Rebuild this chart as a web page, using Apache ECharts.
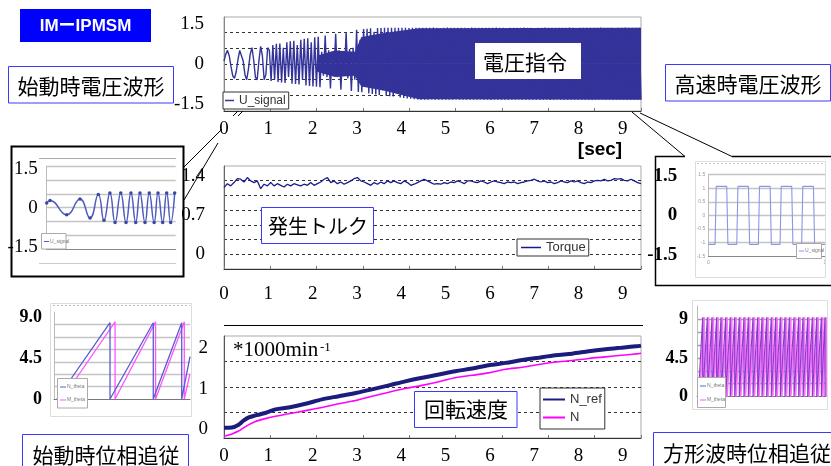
<!DOCTYPE html>
<html><head><meta charset="utf-8">
<script src="https://cdn.jsdelivr.net/npm/echarts@6/dist/echarts.min.js"></script>
<style>html,body{margin:0;padding:0;background:#fff}#c{width:831px;height:466px}</style>
</head><body><div id="c"></div><script>
// ---------------- data ----------------
const timeTickLabels = ['0','1','2','3','4','5','6','7','8','9'];
const voltTickLabels = ['1.5','0','-1.5'];
const torqueTickLabels = ['1.4','0.7','0'];
const speedTickLabels = ['2','1','0'];
const startWaveTickLabels = ['1.5','0','-1.5'];
const squareWaveTickLabels = ['1.5','0','-1.5'];
const startPhaseTickLabels = ['9.0','4.5','0'];
const squarePhaseTickLabels = ['9','4.5','0'];

// voltage command U_signal, evenly sampled over 0 .. 9.41 s
const uSignal = [
0.1,0.35,0.5,0.3,-0.1,-0.45,-0.55,-0.3,0.15,0.5,
0.55,0.1,-0.4,-0.6,-0.2,0.35,0.6,0.15,-0.5,-0.6,
0.1,0.65,0.3,-0.6,-0.4,0.6,0.5,-0.65,0.7,-0.6,
0.75,-0.68,0.76,-0.7,0.6,-0.72,0.8,-0.5,0.84,-0.75,
0.86,-0.76,0.7,-0.78,0.9,-0.6,0.93,-0.81,0.95,-0.83,
0.8,-0.85,0.99,-0.86,1.01,-0.88,0.45,-0.45,1.06,-0.5,
0.5,-0.93,0.45,-0.45,1.12,-0.5,0.5,-0.97,0.48,-0.45,
1.19,-0.55,0.55,-1.02,0.6,-0.6,1.27,-1.06,0.9,-1.07,
1.3,-0.85,1.31,-1.11,1.33,-1.13,1.2,-1.15,1.34,-1.17,
1.34,-1.0,1.35,-1.2,1.35,-1.22,1.35,-1.23,1.35,-1.1,
1.35,-1.26,1.35,-1.28,1.35,-1.3,1.34,-1.31,1.35,-1.33,
1.35,-1.34,1.35,-1.35,1.35,-1.35,
1.35,-1.35,1.35,-1.34,1.36,-1.35,1.35,-1.35,1.34,-1.35,
1.35,-1.35,1.36,-1.35,1.35,-1.35,1.35,-1.34,1.35,-1.35,
1.35,-1.35,1.35,-1.35,1.34,-1.35,1.36,-1.35,1.35,-1.35,
1.35,-1.34,1.35,-1.35,1.35,-1.35,1.35,-1.36,1.35,-1.35,
1.36,-1.35,1.35,-1.35,1.35,-1.35,1.34,-1.35,1.35,-1.35,
1.35,-1.35,1.35,-1.34,1.35,-1.35,1.36,-1.35,1.35,-1.35,
1.35,-1.35,1.34,-1.35,1.35,-1.35,1.35,-1.35,1.36,-1.35,
1.35,-1.36,1.35,-1.35,1.35,-1.34,1.35,-1.35,1.35,-1.35,
1.35,-1.35,1.36,-1.35,1.35,-1.35,1.34,-1.35,1.35,-1.35,
1.35,-1.35,1.35,-1.35,1.35,-1.36,1.35,-1.35,1.35,-1.34,
1.36,-1.35,1.35,-1.35,1.35,-1.35,1.35,-1.35,1.34,-1.35,
1.35,-1.35,1.35,-1.35,1.36,-1.35,1.35,-1.35,1.35,-1.35,
1.35,-1.35,1.35,-1.35
];
// densely filled envelope of U_signal (where the trace merges into a solid band)
const uEnvTime  = [2.1, 2.5, 2.95, 3.1, 3.6, 4.4, 9.41];
const uEnvUpper = [0.3, 0.5, 0.45, 1.0, 1.15, 1.33, 1.35];
const uEnvLower = [-0.3, -0.5, -0.45, -0.85, -1.0, -1.33, -1.35];

// generated torque, evenly sampled over 0 .. 9.41 s
const torque = [
1.19,1.26,1.22,1.28,1.35,1.34,1.29,1.37,1.31,1.28,
1.31,1.17,1.25,1.22,1.28,1.22,1.26,1.23,1.2,1.25,
1.22,1.26,1.24,1.22,1.25,1.23,1.28,1.23,1.26,1.29,
1.34,1.37,1.28,1.31,1.26,1.29,1.25,1.28,1.31,1.35,
1.37,1.31,1.29,1.26,1.23,1.28,1.25,1.29,1.26,1.31,
1.28,1.31,1.28,1.26,1.31,1.28,1.23,1.25,1.28,1.31,
1.34,1.31,1.28,1.25,1.26,1.25,1.28,1.26,1.29,1.28,
1.31,1.29,1.26,1.31,1.31,1.29,1.28,1.31,1.29,1.26,
1.29,1.31,1.29,1.28,1.26,1.29,1.28,1.29,1.26,1.28,
1.29,1.31,1.32,1.34,1.31,1.29,1.31,1.28,1.29,1.26,
1.28,1.31,1.29,1.28,1.31,1.29,1.31,1.28,1.26,1.29,
1.28,1.31,1.32,1.31,1.34,1.31,1.32,1.35,1.34,1.35,
1.32,1.31,1.34,1.31,1.28,1.26
];

// rotation speed (*1000 min^-1)
const speedTime = [0,0.18,0.33,0.44,0.56,0.71,0.93,1.16,1.46,1.84,2.21,2.59,2.97,3.34,3.72,4.09,4.47,4.85,5.22,5.6,5.97,6.35,6.73,7.1,7.48,7.86,8.23,8.61,8.98,9.36,9.41];
const nRef = [0.02,0.03,0.10,0.20,0.28,0.33,0.39,0.48,0.53,0.62,0.73,0.81,0.89,0.98,1.08,1.18,1.27,1.35,1.43,1.50,1.58,1.64,1.71,1.77,1.83,1.87,1.93,1.98,2.02,2.06,2.07];
const nAct = [-0.19,-0.13,-0.06,0.02,0.10,0.18,0.25,0.31,0.37,0.45,0.53,0.62,0.70,0.81,0.91,1.00,1.08,1.17,1.27,1.33,1.39,1.48,1.53,1.60,1.66,1.70,1.75,1.79,1.83,1.87,1.88];

// inset: start-up voltage waveform (extrema)
const startWaveTime = [0,0.026,0.155,0.258,0.336,0.40,0.444,0.49,0.53,0.574,0.615,0.653,0.69,0.723,0.762,0.795,0.833,0.863,0.899,0.93,0.961,0.992];
const startWaveValue = [0.19,0.29,-0.26,0.34,-0.38,0.51,-0.47,0.57,-0.55,0.57,-0.55,0.57,-0.55,0.57,-0.55,0.57,-0.55,0.57,-0.55,0.57,-0.55,0.57];

// inset: high-speed (square) voltage waveform
const squareWaveTime = [0,0.058,0.068,0.158,0.168,0.244,0.254,0.344,0.354,0.429,0.439,0.530,0.540,0.615,0.625,0.715,0.725,0.800,0.810,0.901,0.911,1.0];
const squareWaveValue = [-1.06,-1.06,1.07,1.07,-1.06,-1.06,1.07,1.07,-1.06,-1.06,1.07,1.07,-1.06,-1.06,1.07,1.07,-1.06,-1.06,1.07,1.07,-1.06,-1.06];

// inset: start-up phase tracking
const startThetaRefTime = [0.022,0.412,0.412,0.730,0.730,0.939,0.939,1.0];
const startThetaRef = [0,8.4,0,8.4,0,8.4,0,4.66];
const startThetaTime = [0.059,0.449,0.449,0.747,0.747,0.958,0.958,1.0];
const startTheta = [0,8.5,0,8.5,0,8.5,0,2.8];

// inset: square-wave phase tracking (reset instants and peak)
const squareThetaRefResets = [0.010,0.044,0.080,0.116,0.152,0.186,0.222,0.258,0.292,0.328,0.364,0.398,0.434,0.470,0.504,0.540,0.576,0.610,0.646,0.682,0.716,0.752,0.788,0.822,0.858,0.894,0.928,0.964,0.992];
const squareThetaResets = [0.020,0.054,0.090,0.126,0.162,0.196,0.232,0.268,0.302,0.338,0.374,0.408,0.444,0.480,0.514,0.550,0.586,0.620,0.656,0.692,0.726,0.762,0.798,0.832,0.868,0.904,0.938,0.974,1.0];
const squareThetaPeak = [9.2];

// ---------------- helpers ----------------
const zip = (a, b) => a.map((v, i) => [v, b[i]]);
const sawtooth = (resets, peak) => {
  const pts = [[resets[0], 0]];
  for (let k = 1; k < resets.length; k++) { pts.push([resets[k], peak], [resets[k], 0]); }
  return pts;
};
const SERIF = 'Liberation Serif';
const SANS = 'Liberation Sans';
const JP = 'Noto Sans CJK JP';

function labelAxis(gridIndex, min, max, labels, margin, weight, size) {
  return {
    type: 'value', gridIndex, position: 'left', min, max,
    axisLine: { show: false, onZero: false }, axisTick: { show: false }, splitLine: { show: false },
    axisLabel: {
      customValues: labels.map(Number), margin,
      formatter: v => { const s = labels.find(t => Math.abs(Number(t) - v) < 1e-9); return s === undefined ? '' : s; },
      fontFamily: SERIF, fontSize: size || 19, fontWeight: weight || 'normal', color: '#000'
    }
  };
}
function gridAxis(gridIndex, min, max, interval, lineStyle, axisColor, showMin, showMax) {
  return {
    type: 'value', gridIndex, position: 'left', min, max, interval,
    axisLine: { show: !!axisColor, onZero: false, lineStyle: { color: axisColor || '#000', width: 1 } },
    axisTick: { show: false }, axisLabel: { show: false },
    splitLine: { show: true, showMinLine: showMin, showMaxLine: showMax, lineStyle }
  };
}
function timeAxis(gridIndex, margin) {
  return {
    type: 'value', gridIndex, position: 'bottom', min: 0, max: 9.41,
    axisLine: { show: true, onZero: false, lineStyle: { color: '#333', width: 1 } },
    axisTick: { show: false }, splitLine: { show: false },
    axisLabel: { customValues: timeTickLabels.map(Number), margin, fontFamily: SERIF, fontSize: 19, color: '#000' }
  };
}
function tickAxis(gridIndex) {
  return {
    type: 'value', gridIndex, position: 'bottom', min: 0, max: 9, interval: 1,
    axisLine: { show: false, onZero: false }, axisLabel: { show: false }, splitLine: { show: false },
    axisTick: { show: true, inside: true, length: 3, lineStyle: { color: '#777' } }
  };
}
function catAxis(gridIndex, arr) {
  return { type: 'category', gridIndex, position: 'bottom', show: false, boundaryGap: false, data: arr.map((_, i) => i),
    axisLine: { onZero: false } };
}
function insetX(gridIndex, color, labels) {
  return {
    type: 'value', gridIndex, position: 'bottom', min: 0, max: 1,
    axisLine: { show: true, onZero: false, lineStyle: { color, width: 1 } },
    axisTick: { show: false }, splitLine: { show: false },
    axisLabel: labels ? { customValues: labels, fontSize: 5, color: '#999', margin: 4 } : { show: false }
  };
}

const dashed = { color: '#333', type: [3, 3], width: 1 };
const insetGrid = { color: '#c4c4c4', width: 1.3 };
const VCOL = '#33339a';

// ---------------- graphics ----------------
const G = [];
function box(x, y, w, h, stroke, fill, lw) {
  G.push({ type: 'rect', z: 100, shape: { x, y, width: w, height: h },
    style: { fill: fill || 'none', stroke: stroke || 'none', lineWidth: stroke ? (lw || 1) : 0 } });
}
function txt(x, y, s, font, fill, align, va) {
  G.push({ type: 'text', z: 101, x, y, style: { text: s, font, fill: fill || '#000', align: align || 'center', verticalAlign: va || 'middle' } });
}
function ln(x1, y1, x2, y2, color, w, dash) {
  G.push({ type: 'line', z: 100, shape: { x1, y1, x2, y2 }, style: { stroke: color || '#000', lineWidth: w || 1, lineDash: dash || null } });
}
function pl(points, color, w) {
  G.push({ type: 'polyline', z: 100, shape: { points }, style: { stroke: color, lineWidth: w, fill: 'none' } });
}
const BLUE_BORDER = '#3a3aff';

box(20, 9, 131, 33, null, '#0000ff');
txt(85.5, 26, 'IMーIPMSM', 'bold 17px "' + SANS + '", "' + JP + '"', '#fff');
box(8.5, 66.5, 165, 36.5, BLUE_BORDER, '#fff');
txt(91, 86, '始動時電圧波形', '21px "' + JP + '"');
box(665.5, 64.5, 165, 36.5, BLUE_BORDER, '#fff');
txt(748, 84, '高速時電圧波形', '21px "' + JP + '"');
box(475, 43, 106, 36, null, '#fff');
txt(525, 62, '電圧指令', '21px "' + JP + '"');
box(261.5, 207.5, 112, 36, BLUE_BORDER, '#fff');
txt(318, 226, '発生トルク', '20px "' + JP + '"');
box(414.5, 391.5, 102.5, 36, BLUE_BORDER, '#fff');
txt(466, 409, '回転速度', '21px "' + JP + '"');
box(22.5, 434.5, 166, 40, BLUE_BORDER, '#fff');
txt(106, 455, '始動時位相追従', '21px "' + JP + '"');
box(653.5, 432.5, 180, 40, BLUE_BORDER, '#fff');
txt(747, 453, '方形波時位相追従', '21px "' + JP + '"');
txt(600, 150, '[sec]', 'bold 19px "' + SANS + '"');
txt(233, 350, '*1000min', '21px "' + SERIF + '"', '#000', 'left');
txt(320, 348, '-1', '13px "' + SERIF + '"', '#000', 'left');

// connectors / frames
ln(183, 168, 222, 129); ln(233, 116, 238, 111); ln(238, 116, 243, 111);
ln(184, 200, 218, 143);
ln(632, 112, 685, 156.5); ln(640, 113, 732, 156.5);
pl([[685, 156.5], [655.5, 156.5], [655.5, 285.5], [831, 285.5]], '#000', 1.5);
ln(732, 156.5, 831, 156.5, '#000', 1.5);
box(11.5, 146.5, 172, 130, '#000', null, 2);
ln(224, 325.5, 643, 325.5, '#000', 1);

// inset image frames
ln(39, 158.5, 176, 158.5, '#aaa', 1);
ln(39, 263.5, 176, 263.5, '#ccc', 1);
box(695.5, 161.5, 130, 116, '#ddd');
ln(697, 163.5, 824, 163.5, '#ccc', 1, [2, 2]);
box(50.5, 303.5, 141, 113, '#ddd');
ln(53, 305.5, 190, 305.5, '#bbb', 1, [2, 2]);
box(692.5, 300.5, 135, 109, '#ddd');

// inset tiny legends
const TINY = '5px "' + SANS + '"';
box(41.5, 233.5, 24.5, 15.5, '#aaa', '#fff');
ln(44, 241.5, 49, 241.5, '#4f5bbd'); txt(50, 241.5, 'U_signal', TINY, '#777', 'left');
box(796.5, 243.5, 25, 15, '#aaa', '#fff');
ln(799, 251, 804, 251, '#8a96e6'); txt(805, 251, 'U_signal', TINY, '#777', 'left');
box(57.5, 378.5, 30, 29.5, '#aaa', '#fff');
ln(60, 387, 66, 387, '#5a5ad0'); txt(67, 387, 'N_theta', TINY, '#777', 'left');
ln(60, 400, 66, 400, '#ff55ff'); txt(67, 400, 'M_theta', TINY, '#777', 'left');
box(697.5, 377.5, 28, 30, '#aaa', '#fff');
ln(700, 386, 706, 386, '#5a5ad0'); txt(707, 386, 'N_theta', TINY, '#777', 'left');
ln(700, 400, 706, 400, '#ff55ff'); txt(707, 400, 'M_theta', TINY, '#777', 'left');

// ---------------- option ----------------
const legendBase = {
  icon: 'rect', selectedMode: false, backgroundColor: '#fff', borderColor: '#333', borderWidth: 1, borderRadius: 0,
  textStyle: { fontFamily: SANS, color: '#333', lineHeight: 13 }
};

const option = {
  animation: false,
  backgroundColor: '#fff',
  grid: [
    { left: 224, top: 17, width: 417, height: 94, show: true, borderColor: '#aaa', borderWidth: 1, outerBoundsMode: 'none' },
    { left: 224, top: 166, width: 417, height: 103, show: true, borderColor: '#aaa', borderWidth: 1, outerBoundsMode: 'none' },
    { left: 224, top: 336, width: 417, height: 102, show: true, borderColor: '#aaa', borderWidth: 1, outerBoundsMode: 'none' },
    { left: 46.7, top: 166.3, width: 129, height: 82.7, outerBoundsMode: 'none' },
    { left: 708.3, top: 174.7, width: 116.7, height: 81.6, outerBoundsMode: 'none' },
    { left: 54, top: 312.2, width: 136, height: 86.8, outerBoundsMode: 'none' },
    { left: 697, top: 306, width: 129, height: 90.7, outerBoundsMode: 'none' }
  ],
  xAxis: [
    timeAxis(0, 9), tickAxis(0), catAxis(0, uSignal),
    timeAxis(1, 15.5), tickAxis(1), catAxis(1, torque),
    timeAxis(2, 9), tickAxis(2),
    insetX(3, '#888'), insetX(4, '#888', [0, 1]), insetX(5, '#777'), insetX(6, '#777')
  ],
  yAxis: [
    labelAxis(0, -1.77, 1.75, voltTickLabels, 20),
    gridAxis(0, -3, 3, 1, dashed, '#888', false, false),
    labelAxis(1, -0.276, 1.578, torqueTickLabels, 19),
    gridAxis(1, -1, 6, 1, dashed, '#666', false, false),
    labelAxis(2, -0.2325, 2.31, speedTickLabels, 16),
    gridAxis(2, 0, 4, 1, dashed, '#555', false, false),
    labelAxis(3, -1.565, 1.59, startWaveTickLabels, 9),
    gridAxis(3, -3, 3, 1, insetGrid, '#bbb', false, true),
    labelAxis(4, -1.559, 1.544, squareWaveTickLabels, 31, 'bold'),
    Object.assign(gridAxis(4, -1.5, 1.5, 0.5, insetGrid, '#bbb', false, true),
      { axisLabel: { show: true, fontSize: 5, color: '#999', margin: 3 } }),
    labelAxis(5, 0, 9.56, startPhaseTickLabels, 12, 'bold', 18),
    gridAxis(5, 0, 7, 1, insetGrid, '#bbb', false, false),
    labelAxis(6, 0, 10.51, squarePhaseTickLabels, 9, 'bold', 18),
    gridAxis(6, 0, 7, 1, { color: '#a0a0a0', width: 1.3 }, '#bbb', false, false)
  ],
  legend: [
    Object.assign({}, legendBase, { data: ['U_signal'], left: 223, top: 92, padding: [2, 3, 2, 2],
      itemWidth: 9, itemHeight: 1.5, itemGap: 0, textStyle: Object.assign({}, legendBase.textStyle, { fontSize: 12 }) }),
    Object.assign({}, legendBase, { data: ['Torque'], left: 517, top: 239, padding: [2, 3, 2, 4],
      itemWidth: 20, itemHeight: 1.5, itemGap: 0, textStyle: Object.assign({}, legendBase.textStyle, { fontSize: 13 }) }),
    Object.assign({}, legendBase, { data: ['N_ref', 'N'], left: 540, top: 388, orient: 'vertical', padding: [5, 3, 5, 3],
      itemWidth: 22, itemHeight: 2, itemGap: 5, textStyle: Object.assign({}, legendBase.textStyle, { fontSize: 13 }) })
  ],
  series: [
    { type: 'line', name: 'U_env_upper', xAxisIndex: 0, yAxisIndex: 0, data: zip(uEnvTime, uEnvUpper), symbol: 'none',
      lineStyle: { width: 0, color: VCOL }, areaStyle: { color: VCOL, opacity: 1, origin: 'auto' }, silent: true, z: 1 },
    { type: 'line', name: 'U_env_lower', xAxisIndex: 0, yAxisIndex: 0, data: zip(uEnvTime, uEnvLower), symbol: 'none',
      lineStyle: { width: 0, color: VCOL }, areaStyle: { color: VCOL, opacity: 1, origin: 'auto' }, silent: true, z: 1 },
    { type: 'line', name: 'U_signal', xAxisIndex: 2, yAxisIndex: 0, data: uSignal, symbol: 'none', showSymbol: false,
      lineStyle: { color: VCOL, width: 1.4 }, itemStyle: { color: VCOL }, silent: true },
    { type: 'line', name: 'Torque', xAxisIndex: 5, yAxisIndex: 2, data: torque, symbol: 'none', showSymbol: false,
      lineStyle: { color: '#1a1a8c', width: 1.3 }, itemStyle: { color: '#1a1a8c' }, silent: true },
    { type: 'line', name: 'N', xAxisIndex: 6, yAxisIndex: 4, data: zip(speedTime, nAct), symbol: 'none', showSymbol: false,
      smooth: 0.3, lineStyle: { color: '#ff00ff', width: 1.6 }, itemStyle: { color: '#ff00ff' }, silent: true },
    { type: 'line', name: 'N_ref', xAxisIndex: 6, yAxisIndex: 4, data: zip(speedTime, nRef), symbol: 'none', showSymbol: false,
      smooth: 0.3, lineStyle: { color: '#1c1c7c', width: 4 }, itemStyle: { color: '#1c1c7c' }, silent: true, z: 3 },
    { type: 'line', name: 'inset_start_u', xAxisIndex: 8, yAxisIndex: 6, data: zip(startWaveTime, startWaveValue),
      smooth: 0.5, symbol: 'circle', symbolSize: 3.5, showSymbol: true,
      lineStyle: { color: '#4f5bbd', width: 1.5 }, itemStyle: { color: '#3a46a8' }, silent: true },
    { type: 'line', name: 'inset_square_u', xAxisIndex: 9, yAxisIndex: 9, data: zip(squareWaveTime, squareWaveValue),
      symbol: 'none', lineStyle: { color: '#8a96e6', width: 1.1 }, silent: true },
    { type: 'line', name: 'inset_start_theta', xAxisIndex: 10, yAxisIndex: 10, data: zip(startThetaTime, startTheta),
      symbol: 'none', lineStyle: { color: '#ff55ff', width: 1.3 }, silent: true },
    { type: 'line', name: 'inset_start_theta_ref', xAxisIndex: 10, yAxisIndex: 10, data: zip(startThetaRefTime, startThetaRef),
      symbol: 'none', lineStyle: { color: '#5a5ad0', width: 1.3 }, silent: true },
    { type: 'line', name: 'inset_square_theta', xAxisIndex: 11, yAxisIndex: 12, data: sawtooth(squareThetaResets, squareThetaPeak[0]),
      symbol: 'none', lineStyle: { color: '#ff70ff', width: 2 }, silent: true },
    { type: 'line', name: 'inset_square_theta_ref', xAxisIndex: 11, yAxisIndex: 12, data: sawtooth(squareThetaRefResets, squareThetaPeak[0]),
      symbol: 'none', lineStyle: { color: '#8040c8', width: 1.1 }, silent: true }
  ],
  graphic: G
};

const chart = echarts.init(document.getElementById('c'), null, { renderer: 'canvas', width: 831, height: 466 });
chart.setOption(option);
</script></body></html>
